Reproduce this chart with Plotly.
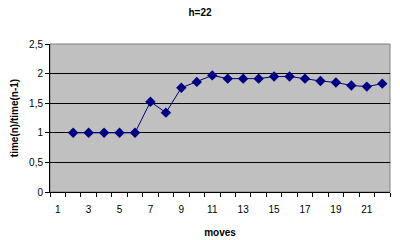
import plotly.graph_objects as go

moves = list(range(2, 23))
ratio = [1.0, 1.0, 1.0, 1.0, 1.0, 1.525, 1.34, 1.76, 1.86, 1.97, 1.915, 1.915,
         1.915, 1.95, 1.95, 1.915, 1.875, 1.85, 1.80, 1.78, 1.83]
tick_labels = [str(v) for v in range(1, 22, 2)]
tick_positions = list(range(1, 22, 2))

fig = go.Figure()
fig.add_trace(go.Scatter(
    x=moves, y=ratio, mode="lines+markers",
    line=dict(color="#000080", width=1),
    marker=dict(symbol="diamond", size=8, color="#000080"),
    showlegend=False,
))

font = dict(family="Arial, Liberation Sans, sans-serif", size=10, color="black")

fig.update_layout(
    width=400, height=240,
    margin=dict(l=50, r=10, t=44, b=48),
    paper_bgcolor="white", plot_bgcolor="#C0C0C0",
    separators=", ",
    font=font,
    title=dict(text="<b>h=22</b>", x=0.5, xanchor="center", y=0.95, yanchor="middle",
               font=dict(size=10, family="Arial, Liberation Sans, sans-serif")),
    xaxis=dict(
        range=[0.5, 22.5], tickvals=tick_positions, ticktext=tick_labels,
        ticks="outside", ticklen=8, tickcolor="rgba(0,0,0,0)",
        showgrid=False, zeroline=False, automargin=False,
        showline=True, linecolor="black", linewidth=1,
        minor=dict(tickvals=[i + 0.5 for i in range(0, 23)], ticks="outside",
                   ticklen=4, tickcolor="black", showgrid=False),
        title=dict(text="<b>moves</b>", standoff=14, font=dict(size=10)),
        tickfont=dict(size=10),
    ),
    yaxis=dict(
        range=[0, 2.5], dtick=0.5, tick0=0, automargin=False,
        showgrid=True, gridcolor="black", gridwidth=1, zeroline=False,
        showline=True, linecolor="black", linewidth=1,
        ticks="outside", ticklen=4, tickcolor="black",
        title=dict(text="<b>time(n)/time(n-1)</b>", standoff=8, font=dict(size=10)),
        tickfont=dict(size=10),
    ),
    shapes=[dict(type="rect", xref="paper", yref="paper", x0=0, x1=1, y0=0, y1=1,
                 line=dict(color="#808080", width=1), layer="below")],
)

fig.write_html("out.html")
